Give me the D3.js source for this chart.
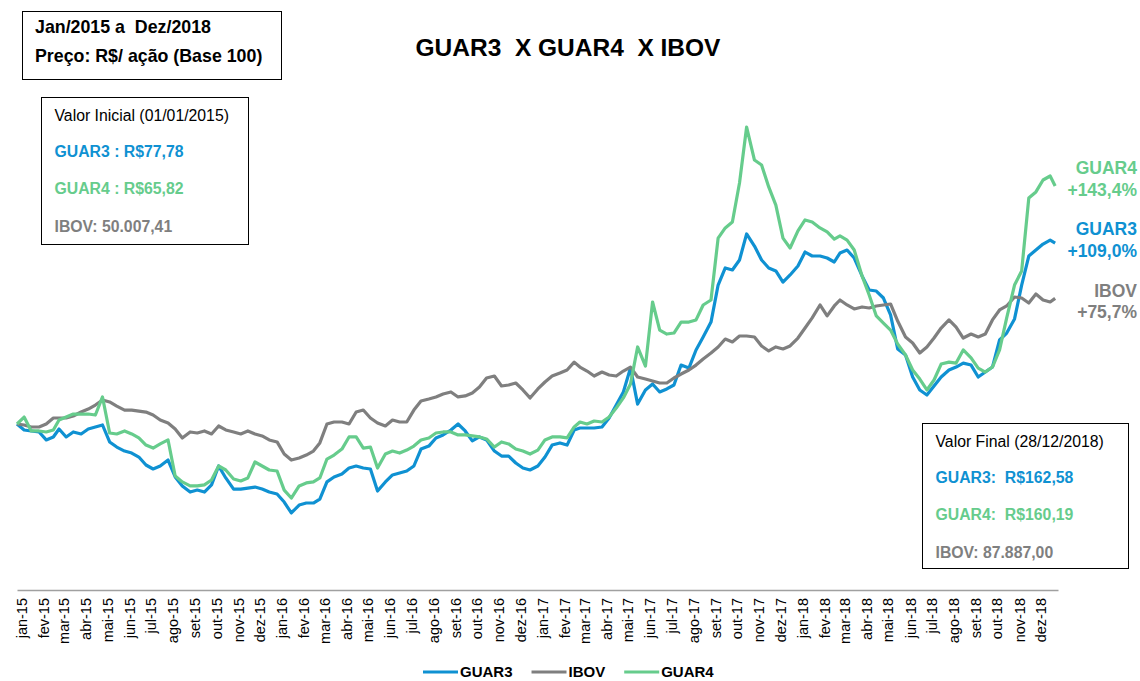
<!DOCTYPE html>
<html lang="pt-BR">
<head>
<meta charset="UTF-8">
<title>GUAR3 X GUAR4 X IBOV</title>
<script src="https://d3js.org/d3.v7.min.js"></script>
<style>
  body { margin: 0; background: #fff; }
  svg text { font-family: "Liberation Sans", Arial, sans-serif; }
</style>
</head>
<body>
<div id="chart"></div>
<script>
var w = 1140;
var h = 681;

// month labels
var monthNames = ["jan", "fev", "mar", "abr", "mai", "jun", "jul", "ago", "set", "out", "nov", "dez"];

// base 100 series, three readings per month (days 1, 11, 21) + 28/12/2018
var guar3 = [100,
  96.4, 95.8, 95.2, 90.4, 92.2, 97.0, 92.2, 95.2, 94.0, 97.0,
  98.2, 99.4, 89.2, 86.1, 83.7, 82.5, 80.1, 75.3, 72.9, 74.7,
  78.3, 68.1, 62.7, 59.0, 60.2, 59.0, 63.3, 74.7, 67.5, 60.8,
  60.8, 61.4, 62.0, 60.8, 59.0, 57.8, 53.0, 46.4, 51.2, 52.4,
  52.4, 54.8, 65.1, 68.1, 69.9, 73.5, 74.7, 73.5, 72.9, 59.6,
  65.1, 69.3, 70.5, 71.7, 74.7, 84.9, 86.7, 91.6, 93.4, 96.4,
  100.0, 95.8, 89.8, 92.2, 90.4, 83.7, 80.7, 80.7, 76.5, 73.5,
  72.3, 74.7, 80.1, 87.3, 88.6, 87.3, 96.4, 97.6, 97.6, 97.6,
  98.2, 103.6, 111.4, 119.3, 133.7, 112.0, 120.5, 124.1, 119.3, 121.1,
  123.5, 135.5, 133.7, 144.6, 152.4, 161.4, 183.7, 194.0, 192.8, 198.8,
  214.5, 207.2, 198.8, 194.0, 192.2, 185.5, 189.8, 195.2, 203.6, 201.2,
  201.2, 200.0, 197.6, 203.0, 204.8, 200.0, 189.2, 180.7, 180.1, 175.9,
  165.7, 145.2, 141.6, 128.3, 120.5, 117.5, 122.9, 128.3, 132.5, 134.3,
  136.7, 135.5, 128.3, 131.3, 134.3, 150.6, 154.8, 163.3, 183.7, 201.2,
  204.8, 208.4, 210.8, 209.0];

var ibov = [100,
  99.4, 98.2, 98.2, 100.0, 103.6, 103.6, 103.6, 104.8, 107.2, 109.0,
  111.4, 114.5, 113.3, 110.8, 108.4, 108.4, 107.8, 107.2, 105.4, 102.4,
  100.6, 97.0, 91.6, 95.2, 94.6, 95.8, 94.0, 98.8, 96.4, 95.2,
  94.0, 95.8, 94.0, 92.8, 90.4, 89.2, 81.9, 78.3, 79.5, 81.3,
  83.7, 88.6, 100.0, 101.2, 101.2, 100.0, 107.2, 108.4, 103.6, 100.6,
  98.8, 102.4, 101.2, 101.2, 108.4, 113.9, 115.1, 116.3, 118.1, 119.3,
  116.3, 116.9, 118.7, 122.3, 127.7, 128.9, 122.9, 123.5, 124.7, 120.5,
  115.7, 121.1, 125.3, 128.9, 130.7, 132.5, 137.3, 134.3, 131.9, 128.9,
  131.3, 129.5, 128.9, 131.9, 134.3, 128.3, 127.1, 125.9, 124.7, 124.7,
  127.7, 130.1, 132.5, 135.5, 139.2, 142.8, 146.4, 151.2, 149.4, 153.0,
  153.0, 152.4, 147.0, 144.0, 146.4, 145.2, 147.0, 151.8, 157.8, 163.9,
  171.7, 165.1, 171.1, 174.7, 171.7, 169.3, 170.5, 169.9, 171.1, 171.7,
  172.3, 162.0, 152.4, 148.8, 142.8, 146.4, 151.8, 157.8, 162.7, 158.4,
  151.8, 154.2, 152.4, 154.2, 162.7, 168.7, 171.1, 176.5, 175.9, 172.9,
  178.3, 174.7, 173.5, 175.7];

var guar4 = [100,
  104.2, 95.8, 95.8, 95.2, 96.4, 102.4, 104.2, 106.0, 106.0, 106.0,
  105.4, 116.3, 94.6, 94.0, 95.8, 94.0, 91.6, 87.3, 85.5, 88.0,
  90.4, 68.7, 65.1, 62.7, 62.7, 63.3, 66.3, 74.7, 72.3, 66.9,
  65.7, 67.5, 77.1, 74.7, 72.3, 71.7, 60.2, 55.4, 62.7, 64.5,
  65.1, 67.5, 78.9, 81.3, 84.9, 92.2, 92.2, 85.5, 86.1, 73.5,
  81.9, 83.7, 82.5, 84.3, 86.7, 90.4, 91.6, 94.6, 95.2, 95.2,
  93.4, 93.4, 92.8, 92.2, 91.0, 86.1, 89.2, 88.0, 84.9, 83.7,
  81.9, 84.3, 90.4, 92.2, 92.2, 91.6, 98.2, 101.2, 100.0, 101.8,
  101.2, 104.2, 109.6, 115.7, 124.1, 146.4, 134.9, 173.5, 156.6, 154.2,
  154.8, 161.4, 161.4, 162.7, 171.7, 174.7, 212.0, 218.1, 221.7, 245.2,
  278.9, 259.0, 256.0, 242.8, 231.9, 212.0, 206.0, 216.3, 222.9, 221.7,
  218.1, 215.7, 211.4, 213.3, 210.8, 204.8, 189.2, 177.7, 165.1, 160.8,
  156.6, 148.2, 141.6, 132.5, 127.1, 120.5, 126.5, 136.1, 137.3, 136.7,
  144.6, 139.8, 133.7, 131.3, 134.3, 144.6, 163.9, 183.7, 192.2, 236.1,
  239.8, 247.0, 249.4, 243.4];

var seriesNames = ["GUAR3", "IBOV", "GUAR4"];
var seriesColors = ["#0f91d2", "#7f7f7f", "#66cc8c"];
var seriesValues = [guar3, ibov, guar4];
var endLabels = ["+109,0%", "+75,7%", "+143,4%"];

var dates = d3.range(144).map(function(i) {
  return new Date(2015, Math.floor(i / 3), 1 + (i % 3) * 10);
}).concat([new Date(2018, 11, 28)]);

var xScale = d3.scaleTime()
               .domain([new Date(2015, 0, 1), new Date(2019, 0, 1)])
               .range([17, 1058]);

var yScale = d3.scaleLinear()
               .domain([0, 300])
               .range([590, 92]);

var svg = d3.select("#chart")
            .append("svg")
            .attr("width", w)
            .attr("height", h);

// x axis
var xAxis = d3.axisBottom(xScale)
              .tickValues(d3.timeMonth.range(new Date(2015, 0, 1), new Date(2019, 0, 1)))
              .tickSize(0)
              .tickSizeOuter(0)
              .tickFormat(function(d) {
                  return monthNames[d.getMonth()] + "-" + String(d.getFullYear()).slice(2);
              });

var gx = svg.append("g")
            .attr("transform", "translate(0,590)")
            .call(xAxis);
gx.select(".domain").attr("stroke", "#a0a0a0").attr("stroke-width", 1.3);
gx.selectAll("text")
  .attr("transform", "rotate(-90)")
  .attr("x", -8)
  .attr("y", 9.5)
  .attr("dy", 0)
  .style("text-anchor", "end")
  .style("font-size", "14.5px")
  .style("font-family", "'Liberation Sans', Arial, sans-serif")
  .attr("fill", "#000");

// lines
var line = d3.line()
             .x(function(d, i) { return xScale(dates[i]); })
             .y(function(d) { return yScale(d); });

seriesValues.forEach(function(vals, s) {
  svg.append("path")
     .datum(vals)
     .attr("d", line)
     .attr("fill", "none")
     .attr("stroke", seriesColors[s])
     .attr("stroke-width", 3.2)
     .attr("stroke-linejoin", "round");
});

// title
svg.append("text")
   .attr("x", 568)
   .attr("y", 56)
   .attr("text-anchor", "middle")
   .style("font-size", "24.5px")
   .style("font-weight", "bold")
   .style("white-space", "pre")
   .text("GUAR3  X GUAR4  X IBOV");

// period box
svg.append("rect")
   .attr("x", 22.5).attr("y", 11.5).attr("width", 259).attr("height", 68)
   .attr("fill", "#fff").attr("stroke", "#000").attr("stroke-width", 1);
svg.append("text").attr("x", 35).attr("y", 33)
   .style("font-size", "17.8px").style("font-weight", "bold").style("white-space", "pre")
   .text("Jan/2015 a  Dez/2018");
svg.append("text").attr("x", 35).attr("y", 62)
   .style("font-size", "17.8px").style("font-weight", "bold")
   .text("Preço: R$/ ação (Base 100)");

// info boxes
function infoBox(x, y, bw, bh, title, rows) {
  svg.append("rect")
     .attr("x", x).attr("y", y).attr("width", bw).attr("height", bh)
     .attr("fill", "#fff").attr("stroke", "#000").attr("stroke-width", 1);
  svg.append("text").attr("x", x + 13).attr("y", y + 23)
     .style("font-size", "15.8px").attr("fill", "#000")
     .text(title);
  rows.forEach(function(r, i) {
    svg.append("text").attr("x", x + 13).attr("y", y + 59 + i * 37.5)
       .style("font-size", "15.8px").style("font-weight", "bold")
       .style("white-space", "pre")
       .attr("fill", r[1])
       .text(r[0]);
  });
}

infoBox(41.5, 97.5, 207, 147, "Valor Inicial (01/01/2015)", [
  ["GUAR3 : R$77,78", seriesColors[0]],
  ["GUAR4 : R$65,82", seriesColors[2]],
  ["IBOV: 50.007,41", seriesColors[1]]
]);

infoBox(922.5, 423.5, 206, 145, "Valor Final (28/12/2018)", [
  ["GUAR3:  R$162,58", seriesColors[0]],
  ["GUAR4:  R$160,19", seriesColors[2]],
  ["IBOV: 87.887,00", seriesColors[1]]
]);

// end labels
var endY = [[235, 257], [297, 318], [174, 196]];
seriesNames.forEach(function(name, s) {
  svg.append("text").attr("x", 1137).attr("y", endY[s][0])
     .attr("text-anchor", "end").style("font-size", "17.5px").style("font-weight", "bold")
     .attr("fill", seriesColors[s]).text(name);
  svg.append("text").attr("x", 1137).attr("y", endY[s][1])
     .attr("text-anchor", "end").style("font-size", "17.5px").style("font-weight", "bold")
     .attr("fill", seriesColors[s]).text(endLabels[s]);
});

// legend
var lx = 423;
seriesNames.forEach(function(name, s) {
  svg.append("line")
     .attr("x1", lx).attr("x2", lx + 35).attr("y1", 672).attr("y2", 672)
     .attr("stroke", seriesColors[s]).attr("stroke-width", 3);
  var t = svg.append("text")
     .attr("x", lx + 37).attr("y", 677)
     .style("font-size", "15px").style("font-weight", "bold")
     .attr("fill", "#000")
     .text(name);
  lx = lx + 37 + t.node().getComputedTextLength() + 19;
});
</script>
</body>
</html>
